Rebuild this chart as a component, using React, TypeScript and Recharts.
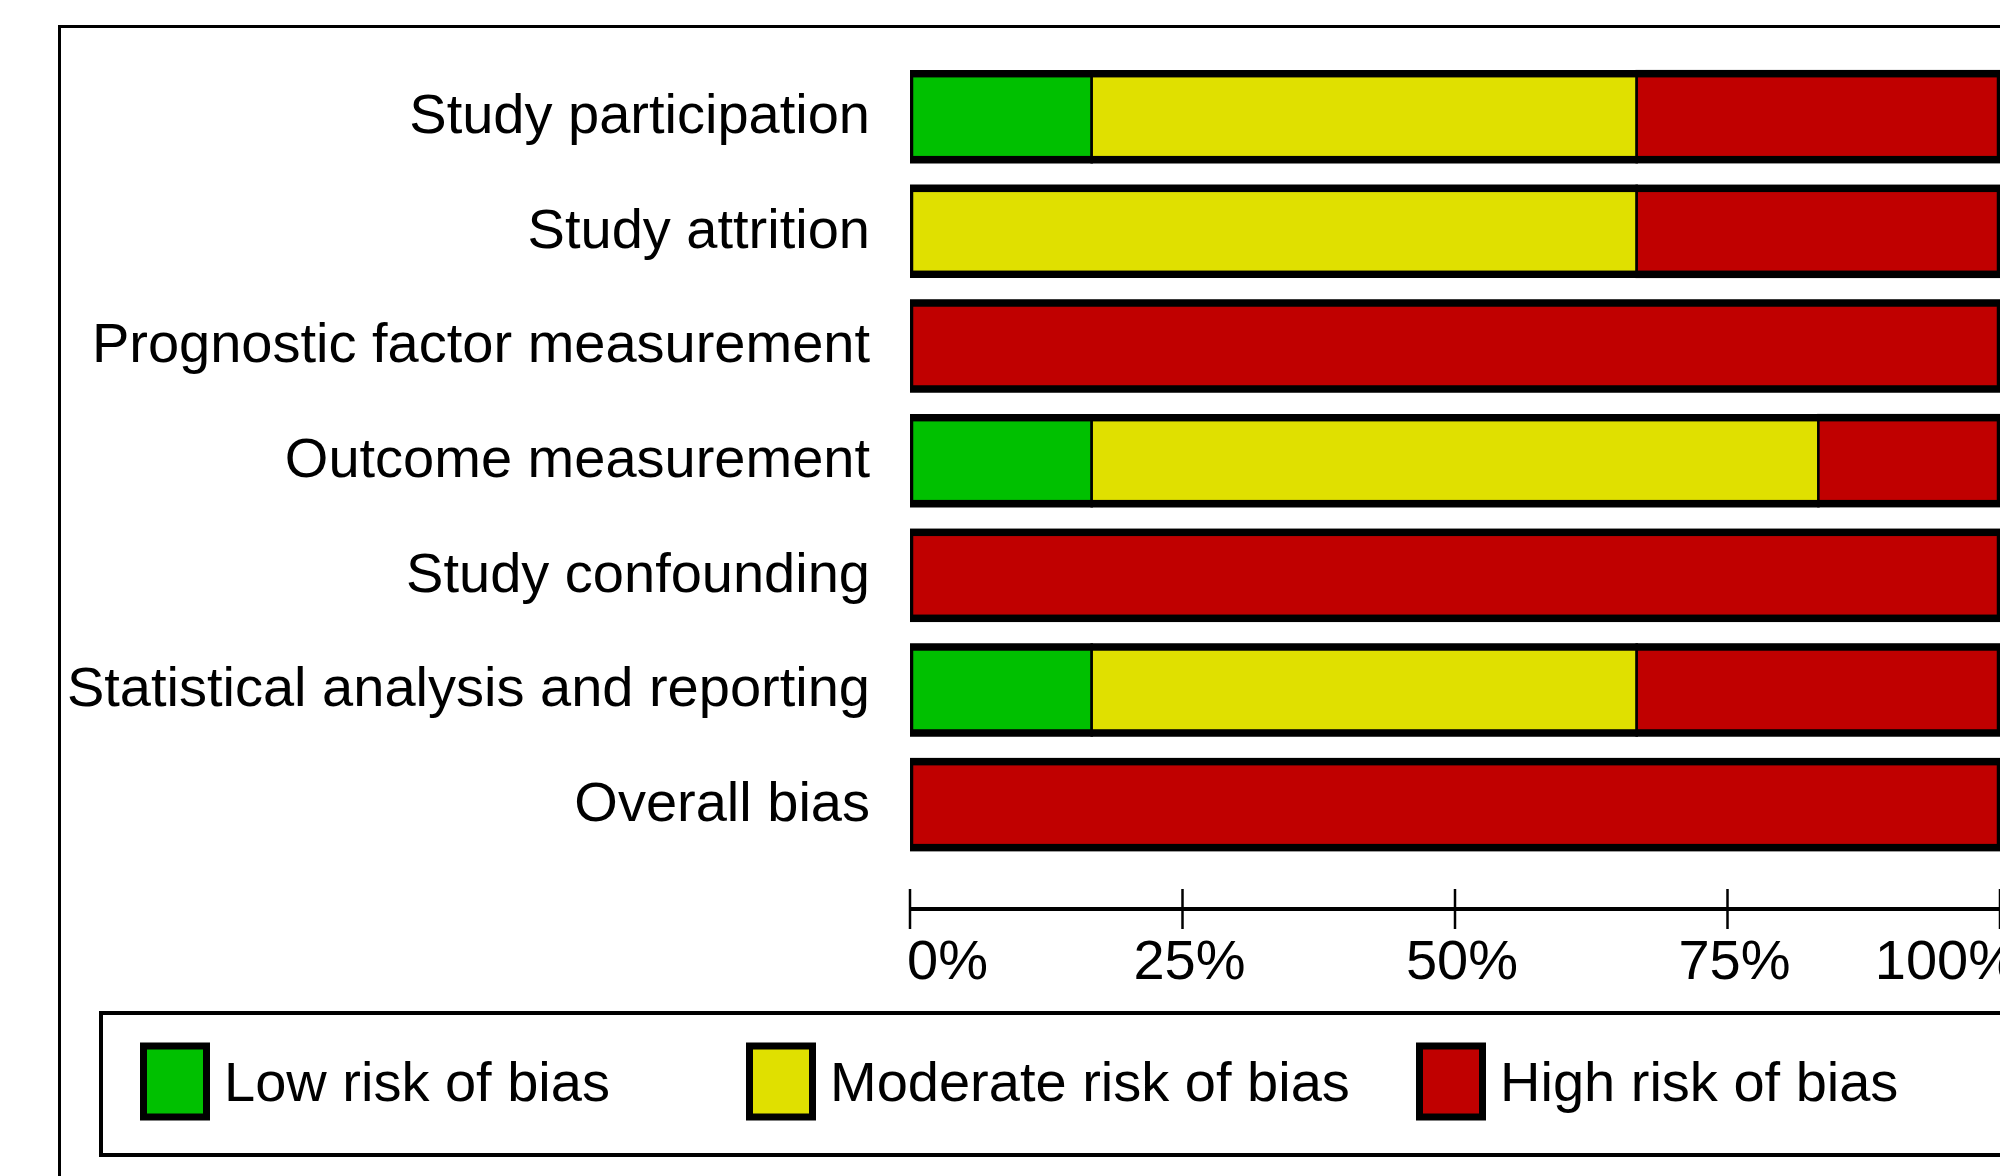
import React from 'react';
import { BarChart, Bar, XAxis, YAxis, Legend } from 'recharts';

const domains = [
  'Study participation',
  'Study attrition',
  'Prognostic factor measurement',
  'Outcome measurement',
  'Study confounding',
  'Statistical analysis and reporting',
  'Overall bias',
];
const lowRisk = [16.67, 0, 0, 16.67, 0, 16.67, 0];
const moderateRisk = [50, 66.67, 0, 66.67, 0, 50, 0];
const highRisk = [33.33, 33.33, 100, 16.67, 100, 33.33, 100];
const xTicks = [0, 25, 50, 75, 100];
const xTickLabels = ['0%', '25%', '50%', '75%', '100%'];
const seriesNames = ['Low risk of bias', 'Moderate risk of bias', 'High risk of bias'];

const COLORS = ['#00C000', '#E0E000', '#C00000'];
const FONT = '"Liberation Sans", Arial, Helvetica, sans-serif';

const data = domains.map((name, i) => ({
  name,
  low: lowRisk[i],
  moderate: moderateRisk[i],
  high: highRisk[i],
}));

const HighShape = (props: any) => {
  const { x, y, width, height, fill, background } = props;
  return (
    <g>
      {width > 0 && (
        <rect x={x} y={y} width={width} height={height} fill={fill} stroke="#000" strokeWidth={2.5} />
      )}
      {background && (
        <rect
          x={background.x}
          y={background.y + 3}
          width={background.width}
          height={background.height - 6}
          fill="none"
          stroke="#000"
          strokeWidth={6.5}
        />
      )}
    </g>
  );
};

const YTick = (props: any) => {
  const { x, y, payload } = props;
  return (
    <text x={x - 40} y={y + 16.5} textAnchor="end" fontSize={56} fontFamily={FONT} fill="#000">
      {payload.value}
    </text>
  );
};

const XTick = (props: any) => {
  const { x, y, payload } = props;
  const idx = xTicks.indexOf(payload.value);
  const last = xTicks.length - 1;
  const anchor = idx === 0 ? 'start' : idx === last ? 'end' : 'middle';
  const dx = idx === 0 ? -3 : idx === last ? 18 : 7;
  return (
    <g>
      <line x1={x} x2={x} y1={y - 20} y2={y + 20} stroke="#000" strokeWidth={2.5} />
      <text x={x + dx} y={y + 70} textAnchor={anchor} fontSize={56} fontFamily={FONT} fill="#000">
        {xTickLabels[idx]}
      </text>
    </g>
  );
};

const LEGEND_X = [41, 647, 1317];

const LegendBox = (props: any) => {
  const raw = (props.payload || []).filter((p: any) => p.type !== 'none' && seriesNames.indexOf(p.value) >= 0);
  const sorted = [...raw].sort((a: any, b: any) => seriesNames.indexOf(a.value) - seriesNames.indexOf(b.value));
  const items =
    sorted.length === 3
      ? sorted.map((p: any) => ({ label: p.value, color: p.color }))
      : seriesNames.map((n, i) => ({ label: n, color: COLORS[i] }));
  return (
    <svg width={2000} height={150} style={{ display: 'block' }}>
      <rect x={2} y={2} width={2100} height={142} fill="none" stroke="#000" strokeWidth={4} />
      {items.map((it: any, i: number) => (
        <g key={i}>
          <rect x={LEGEND_X[i] + 3.5} y={35} width={63} height={71} fill={it.color} stroke="#000" strokeWidth={7} />
          <text x={LEGEND_X[i] + 84} y={90} fontSize={56} fontFamily={FONT} fill="#000">
            {it.label}
          </text>
        </g>
      ))}
    </svg>
  );
};

export default function App() {
  return (
    <div style={{ position: 'fixed', left: 0, top: 0, width: 2000, height: 1176, overflow: 'hidden', background: '#fff' }}>
      <div
        style={{
          position: 'absolute',
          left: 58,
          top: 25,
          width: 3000,
          height: 3000,
          border: '3.5px solid #000',
        }}
      />
      <div style={{ position: 'absolute', left: 0, top: 0 }}>
        <BarChart
          width={2120}
          height={1176}
          data={data}
          layout="vertical"
          margin={{ top: 59.17, right: 120, bottom: 167, left: 0 }}
          barSize={91}
        >
          <XAxis
            type="number"
            domain={[0, 100]}
            ticks={xTicks}
            allowDataOverflow
            height={100}
            tickSize={0}
            tickMargin={0}
            tickLine={false}
            axisLine={{ stroke: '#000', strokeWidth: 4 }}
            tick={<XTick />}
            interval={0}
          />
          <YAxis
            type="category"
            dataKey="name"
            width={910}
            axisLine={false}
            tickLine={false}
            tickSize={0}
            tickMargin={0}
            tick={<YTick />}
            interval={0}
            padding={{ top: 0, bottom: 47.2 }}
          />
          <Bar dataKey="low" name={seriesNames[0]} stackId="a" fill={COLORS[0]} stroke="#000" strokeWidth={2.5} isAnimationActive={false} />
          <Bar dataKey="moderate" name={seriesNames[1]} stackId="a" fill={COLORS[1]} stroke="#000" strokeWidth={2.5} isAnimationActive={false} />
          <Bar dataKey="high" name={seriesNames[2]} stackId="a" fill={COLORS[2]} isAnimationActive={false} shape={<HighShape />} />
          <Legend
            layout="horizontal"
            verticalAlign="middle"
            align="center"
            content={<LegendBox />}
            wrapperStyle={{ position: 'absolute', left: 99, top: 1011, width: 2000, height: 150 }}
          />
        </BarChart>
      </div>
    </div>
  );
}
